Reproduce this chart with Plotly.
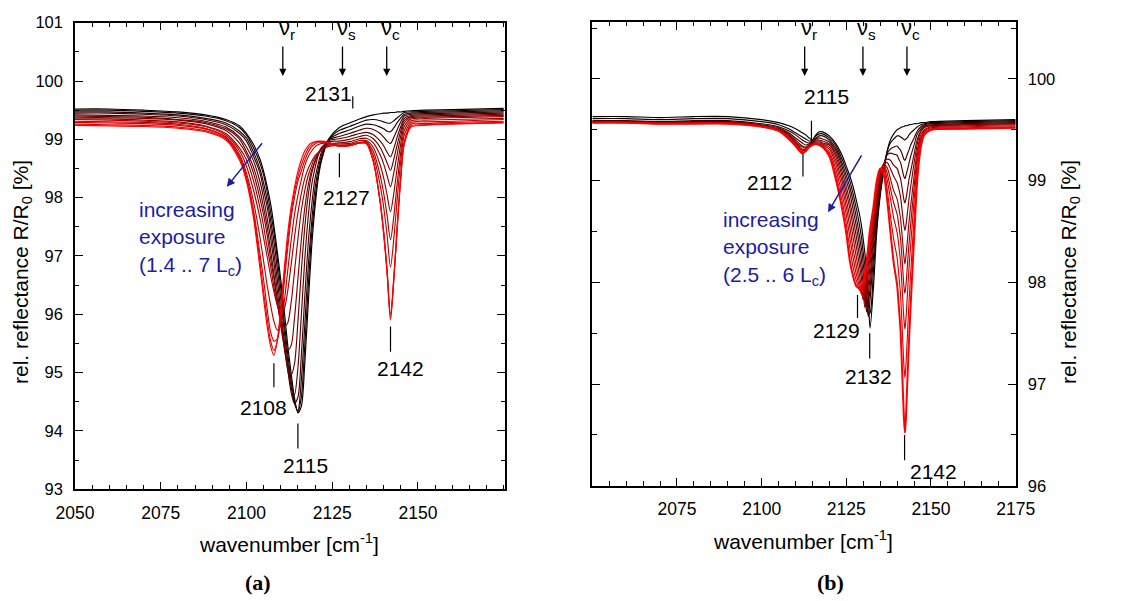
import plotly.graph_objects as go

# ---------------- panel (a) data : wavenumber grid [cm-1] and R/R0 [%] -------------
wn_a = [2050, 2060, 2070, 2080, 2088, 2094, 2098,
        2100, 2102, 2104, 2105, 2106, 2107, 2108, 2109, 2110, 2111, 2112, 2113, 2114, 2115, 2116, 2117, 2118, 2119, 2120, 2121, 2122, 2124,
        2127, 2130, 2133, 2135,
        2137, 2139, 2140, 2141, 2142, 2143, 2144, 2145, 2146, 2148,
        2152, 2160, 2175]

a00 = [99.52, 99.52, 99.50, 99.47, 99.42, 99.34, 99.23,
       99.10, 98.92, 98.65, 98.45, 98.20, 97.91, 97.52, 97.07, 96.59, 96.07, 95.49, 95.00, 94.57, 94.31, 94.42, 95.15, 96.17, 97.14, 97.85, 98.36, 98.66, 99.01,
       99.20, 99.28, 99.35, 99.39,
       99.42, 99.44, 99.45, 99.45, 99.46, 99.46, 99.47, 99.47, 99.48, 99.49,
       99.50, 99.51, 99.53]
a01 = [99.50, 99.50, 99.48, 99.45, 99.40, 99.32, 99.20,
       99.07, 98.86, 98.58, 98.39, 98.11, 97.77, 97.41, 96.96, 96.44, 95.87, 95.34, 94.87, 94.51, 94.33, 94.58, 95.46, 96.46, 97.37, 97.98, 98.42, 98.69, 99.00,
       99.15, 99.22, 99.29, 99.33,
       99.34, 99.32, 99.30, 99.28, 99.28, 99.32, 99.37, 99.42, 99.46, 99.47,
       99.48, 99.49, 99.51]
a02 = [99.47, 99.47, 99.45, 99.42, 99.36, 99.28, 99.14,
       99.02, 98.79, 98.48, 98.25, 97.97, 97.63, 97.25, 96.78, 96.26, 95.72, 95.21, 94.77, 94.47, 94.35, 94.87, 95.81, 96.81, 97.57, 98.16, 98.51, 98.75, 99.00,
       99.10, 99.16, 99.23, 99.26,
       99.25, 99.21, 99.18, 99.14, 99.13, 99.20, 99.29, 99.37, 99.43, 99.45,
       99.46, 99.47, 99.49]
a03 = [99.45, 99.45, 99.43, 99.40, 99.34, 99.25, 99.10,
       98.97, 98.72, 98.41, 98.13, 97.85, 97.50, 97.05, 96.59, 96.06, 95.55, 95.08, 94.67, 94.47, 94.58, 95.29, 96.30, 97.21, 97.86, 98.33, 98.60, 98.80, 98.99,
       99.05, 99.10, 99.16, 99.19,
       99.17, 99.10, 99.04, 98.97, 98.93, 99.04, 99.17, 99.30, 99.40, 99.43,
       99.44, 99.45, 99.47]
a04 = [99.42, 99.41, 99.40, 99.37, 99.31, 99.21, 99.04,
       98.87, 98.64, 98.26, 97.99, 97.66, 97.32, 96.89, 96.40, 95.92, 95.44, 95.05, 94.78, 94.62, 95.08, 95.98, 96.94, 97.67, 98.21, 98.51, 98.74, 98.85, 98.98,
       99.01, 99.05, 99.10, 99.12,
       99.08, 98.97, 98.89, 98.78, 98.70, 98.85, 99.05, 99.22, 99.36, 99.41,
       99.42, 99.43, 99.45]
a05 = [99.40, 99.39, 99.38, 99.34, 99.29, 99.18, 99.00,
       98.79, 98.53, 98.11, 97.83, 97.52, 97.12, 96.69, 96.25, 95.80, 95.44, 95.13, 94.96, 95.15, 95.87, 96.74, 97.49, 98.04, 98.41, 98.62, 98.77, 98.87, 98.96,
       98.97, 99.00, 99.05, 99.07,
       99.01, 98.86, 98.74, 98.60, 98.47, 98.67, 98.92, 99.15, 99.32, 99.39,
       99.40, 99.41, 99.43]
a06 = [99.38, 99.37, 99.36, 99.33, 99.27, 99.15, 98.93,
       98.74, 98.43, 97.97, 97.70, 97.37, 96.97, 96.61, 96.20, 95.84, 95.54, 95.39, 95.46, 95.93, 96.61, 97.28, 97.82, 98.21, 98.47, 98.63, 98.76, 98.84, 98.92,
       98.94, 98.96, 99.01, 99.02,
       98.94, 98.73, 98.58, 98.38, 98.19, 98.44, 98.76, 99.06, 99.28, 99.37,
       99.38, 99.39, 99.41]
a07 = [99.35, 99.35, 99.33, 99.30, 99.23, 99.10, 98.85,
       98.65, 98.30, 97.81, 97.51, 97.16, 96.84, 96.47, 96.18, 95.92, 95.79, 95.85, 96.19, 96.73, 97.29, 97.78, 98.12, 98.38, 98.55, 98.69, 98.77, 98.83, 98.90,
       98.92, 98.93, 98.98, 98.98,
       98.86, 98.56, 98.34, 98.05, 97.76, 98.09, 98.53, 98.93, 99.22, 99.35,
       99.36, 99.37, 99.39]
a08 = [99.34, 99.33, 99.31, 99.28, 99.22, 99.07, 98.80,
       98.54, 98.14, 97.63, 97.31, 97.00, 96.67, 96.39, 96.15, 96.02, 96.09, 96.39, 96.84, 97.32, 97.74, 98.07, 98.33, 98.50, 98.62, 98.72, 98.78, 98.83, 98.88,
       98.90, 98.91, 98.95, 98.96,
       98.79, 98.38, 98.08, 97.70, 97.28, 97.70, 98.27, 98.78, 99.15, 99.32,
       99.33, 99.34, 99.36]
a09 = [99.31, 99.30, 99.29, 99.26, 99.19, 99.04, 98.74,
       98.42, 97.95, 97.30, 96.91, 96.51, 96.17, 95.88, 95.73, 95.84, 96.21, 96.73, 97.25, 97.71, 98.04, 98.31, 98.55, 98.70, 98.80, 98.87, 98.91, 98.93, 98.93,
       98.89, 98.90, 98.94, 98.94,
       98.72, 98.21, 97.84, 97.36, 96.81, 97.32, 98.01, 98.63, 99.07, 99.29,
       99.30, 99.31, 99.34]
a10 = [99.29, 99.28, 99.27, 99.24, 99.18, 99.03, 98.70,
       98.36, 97.81, 97.01, 96.59, 96.11, 95.71, 95.54, 95.58, 95.95, 96.53, 97.12, 97.64, 98.00, 98.28, 98.46, 98.64, 98.78, 98.87, 98.92, 98.95, 98.95, 98.94,
       98.88, 98.89, 98.94, 98.93,
       98.63, 97.94, 97.43, 96.77, 96.00, 96.66, 97.57, 98.38, 98.96, 99.26,
       99.27, 99.29, 99.31]
a11 = [99.26, 99.25, 99.24, 99.21, 99.15, 99.01, 98.67,
       98.31, 97.75, 96.87, 96.38, 95.94, 95.56, 95.38, 95.54, 96.02, 96.67, 97.24, 97.73, 98.10, 98.36, 98.56, 98.72, 98.84, 98.91, 98.95, 98.96, 98.96, 98.94,
       98.88, 98.89, 98.94, 98.93,
       98.62, 97.92, 97.40, 96.73, 95.93, 96.61, 97.53, 98.35, 98.93, 99.23,
       99.25, 99.27, 99.29]
a12 = [99.24, 99.23, 99.22, 99.19, 99.13, 98.99, 98.64,
       98.28, 97.67, 96.76, 96.27, 95.81, 95.46, 95.30, 95.56, 96.11, 96.77, 97.37, 97.83, 98.17, 98.45, 98.65, 98.80, 98.89, 98.94, 98.96, 98.97, 98.97, 98.95,
       98.88, 98.89, 98.94, 98.93,
       98.62, 97.91, 97.38, 96.71, 95.90, 96.64, 97.49, 98.33, 98.91, 99.21,
       99.24, 99.26, 99.28]

# ---------------- panel (b) data -------------
wn_b = [2050, 2060, 2070, 2080, 2090, 2100, 2105, 2108,
        2110, 2112, 2113, 2114, 2115, 2116, 2117, 2118, 2120, 2122,
        2123, 2124, 2125, 2126, 2127, 2128, 2129,
        2129.5, 2130, 2130.5, 2131, 2131.5, 2132,
        2133, 2134, 2135, 2136, 2137, 2138, 2139, 2140,
        2140.5, 2141, 2141.5, 2142, 2142.3, 2142.6, 2143, 2143.5, 2144,
        2145, 2146, 2147, 2148, 2150, 2160, 2175]

b00 = [99.63, 99.63, 99.62, 99.63, 99.63, 99.60, 99.57, 99.54,
       99.51, 99.47, 99.45, 99.42, 99.40, 99.45, 99.48, 99.48, 99.44, 99.36,
       99.30, 99.23, 99.14, 99.05, 98.94, 98.80, 98.65,
       98.55, 98.42, 98.28, 98.10, 97.85, 97.55,
       97.95, 98.50, 98.85, 99.08, 99.28, 99.40, 99.46, 99.50,
       99.51, 99.52, 99.53, 99.53, 99.54, 99.54, 99.54, 99.55, 99.55,
       99.56, 99.56, 99.57, 99.57, 99.58, 99.59, 99.60]
b01 = [99.61, 99.61, 99.60, 99.61, 99.61, 99.58, 99.55, 99.51,
       99.47, 99.43, 99.41, 99.39, 99.40, 99.44, 99.46, 99.46, 99.42, 99.34,
       99.27, 99.19, 99.10, 99.00, 98.87, 98.72, 98.54,
       98.43, 98.29, 98.15, 97.94, 97.69, 97.70,
       98.11, 98.57, 98.88, 99.10, 99.28, 99.37, 99.41, 99.44,
       99.44, 99.43, 99.42, 99.405, 99.40, 99.41, 99.42, 99.45, 99.47,
       99.50, 99.53, 99.55, 99.56, 99.57, 99.58, 99.59]
b02 = [99.59, 99.59, 99.58, 99.59, 99.59, 99.56, 99.53, 99.49,
       99.45, 99.40, 99.38, 99.37, 99.39, 99.42, 99.44, 99.44, 99.40, 99.31,
       99.24, 99.15, 99.05, 98.94, 98.80, 98.63, 98.43,
       98.32, 98.18, 98.03, 97.81, 97.66, 97.83,
       98.24, 98.64, 98.91, 99.12, 99.26, 99.31, 99.33, 99.34,
       99.32, 99.30, 99.26, 99.21, 99.20, 99.22, 99.26, 99.30, 99.35,
       99.42, 99.49, 99.53, 99.55, 99.56, 99.57, 99.58]
b03 = [99.585, 99.585, 99.575, 99.58, 99.58, 99.55, 99.52, 99.47,
       99.42, 99.37, 99.35, 99.36, 99.38, 99.41, 99.42, 99.41, 99.38, 99.29,
       99.21, 99.11, 99.00, 98.88, 98.72, 98.54, 98.33,
       98.21, 98.08, 97.90, 97.71, 97.79, 97.94,
       98.36, 98.71, 98.95, 99.15, 99.25, 99.27, 99.26, 99.25,
       99.21, 99.18, 99.11, 99.04, 99.02, 99.05, 99.10, 99.17, 99.24,
       99.35, 99.46, 99.51, 99.54, 99.55, 99.56, 99.57]
b04 = [99.58, 99.58, 99.57, 99.575, 99.575, 99.545, 99.51, 99.46,
       99.40, 99.34, 99.33, 99.35, 99.37, 99.40, 99.40, 99.39, 99.36, 99.26,
       99.17, 99.06, 98.94, 98.80, 98.63, 98.44, 98.23,
       98.11, 97.98, 97.81, 97.76, 97.89, 98.05,
       98.44, 98.75, 98.98, 99.16, 99.21, 99.20, 99.15, 99.12,
       99.07, 99.02, 98.92, 98.81, 98.78, 98.82, 98.90, 99.01, 99.09,
       99.26, 99.41, 99.49, 99.53, 99.54, 99.55, 99.56]
b05 = [99.58, 99.58, 99.57, 99.57, 99.57, 99.54, 99.50, 99.45,
       99.38, 99.33, 99.32, 99.34, 99.37, 99.39, 99.39, 99.37, 99.35, 99.23,
       99.13, 99.01, 98.88, 98.73, 98.54, 98.34, 98.14,
       98.03, 97.89, 97.75, 97.86, 97.98, 98.17,
       98.50, 98.78, 99.01, 99.16, 99.18, 99.12, 99.04, 98.98,
       98.92, 98.84, 98.70, 98.56, 98.51, 98.56, 98.67, 98.82, 98.94,
       99.17, 99.37, 99.48, 99.52, 99.54, 99.55, 99.56]
b06 = [99.575, 99.575, 99.565, 99.57, 99.57, 99.54, 99.50, 99.44,
       99.37, 99.31, 99.31, 99.34, 99.36, 99.38, 99.38, 99.36, 99.33, 99.19,
       99.08, 98.96, 98.81, 98.64, 98.44, 98.24, 98.05,
       97.95, 97.83, 97.84, 97.94, 98.08, 98.26,
       98.56, 98.82, 99.05, 99.16, 99.13, 99.02, 98.90, 98.82,
       98.73, 98.63, 98.45, 98.25, 98.18, 98.26, 98.40, 98.59, 98.75,
       99.04, 99.31, 99.45, 99.50, 99.53, 99.54, 99.55]
b07 = [99.575, 99.575, 99.565, 99.565, 99.565, 99.535, 99.495, 99.43,
       99.36, 99.30, 99.30, 99.33, 99.36, 99.37, 99.37, 99.35, 99.31, 99.15,
       99.03, 98.90, 98.74, 98.55, 98.33, 98.15, 97.98,
       97.90, 97.84, 97.92, 98.02, 98.17, 98.33,
       98.62, 98.86, 99.08, 99.16, 99.08, 98.93, 98.78, 98.67,
       98.56, 98.43, 98.21, 97.96, 97.89, 97.97, 98.15, 98.38, 98.57,
       98.93, 99.26, 99.42, 99.49, 99.52, 99.53, 99.54]
b08 = [99.57, 99.57, 99.56, 99.565, 99.565, 99.535, 99.49, 99.42,
       99.35, 99.29, 99.30, 99.33, 99.35, 99.37, 99.36, 99.34, 99.28, 99.10,
       98.97, 98.83, 98.66, 98.45, 98.24, 98.07, 97.94,
       97.88, 97.91, 97.98, 98.10, 98.24, 98.40,
       98.65, 98.91, 99.10, 99.14, 99.02, 98.83, 98.63, 98.49,
       98.36, 98.20, 97.93, 97.64, 97.54, 97.64, 97.86, 98.14, 98.37,
       98.80, 99.20, 99.40, 99.48, 99.51, 99.52, 99.53]
b09 = [99.57, 99.57, 99.56, 99.56, 99.56, 99.53, 99.49, 99.42,
       99.34, 99.28, 99.29, 99.33, 99.35, 99.36, 99.35, 99.33, 99.26, 99.05,
       98.91, 98.76, 98.57, 98.34, 98.15, 98.01, 97.92,
       97.92, 97.97, 98.04, 98.17, 98.30, 98.46,
       98.70, 98.96, 99.11, 99.11, 98.93, 98.66, 98.42, 98.24,
       98.07, 97.88, 97.55, 97.18, 97.06, 97.19, 97.45, 97.80, 98.09,
       98.63, 99.12, 99.37, 99.47, 99.50, 99.51, 99.52]
b10 = [99.57, 99.57, 99.56, 99.56, 99.56, 99.53, 99.49, 99.41,
       99.34, 99.27, 99.29, 99.33, 99.35, 99.36, 99.35, 99.33, 99.24, 99.00,
       98.85, 98.68, 98.48, 98.22, 98.06, 97.96, 97.94,
       97.96, 98.00, 98.10, 98.21, 98.36, 98.52,
       98.74, 99.00, 99.12, 99.07, 98.83, 98.50, 98.19, 97.97,
       97.76, 97.53, 97.11, 96.67, 96.52, 96.67, 97.01, 97.42, 97.78,
       98.43, 99.03, 99.33, 99.45, 99.50, 99.51, 99.52]

spectra_a = [a00, a01, a02, a03, a04, a05, a06, a07, a08, a09, a10, a11, a12]
spectra_b = [b00, b01, b02, b03, b04, b05, b06, b07, b08, b09, b10]

# peak labels (text) and mode labels
peaks_a = ["2131", "2127", "2108", "2115", "2142"]
peaks_b = ["2115", "2112", "2129", "2132", "2142"]
modes = ["r", "s", "c"]
modes_pos_a = [2110.6, 2128.0, 2140.9]
modes_pos_b = [2112.7, 2129.9, 2142.9]

FONT = "Liberation Sans, Arial, Helvetica, sans-serif"
BLUE = "#1c1ca6"


def shade(k, n):
    r = int(round(255 * k / (n - 1)))
    return "rgb(%d,0,0)" % r


fig = go.Figure()
for k, y in enumerate(spectra_a):
    fig.add_trace(go.Scatter(x=wn_a, y=y, mode="lines", xaxis="x", yaxis="y",
                             line=dict(color=shade(k, len(spectra_a)), width=1.15,
                                       shape="spline", smoothing=0.8),
                             showlegend=False, hoverinfo="skip"))
for k, y in enumerate(spectra_b):
    last = k == len(spectra_b) - 1
    fig.add_trace(go.Scatter(x=wn_b, y=y, mode="lines", xaxis="x2", yaxis="y2",
                             line=dict(color=shade(k, len(spectra_b)), width=2.0 if last else 1.15,
                                       shape="spline", smoothing=0.8),
                             showlegend=False, hoverinfo="skip"))

ax_common = dict(showline=True, linecolor="black", linewidth=1.5, mirror="allticks",
                 ticks="inside", ticklen=8, tickwidth=1.3, tickcolor="black",
                 showgrid=False, zeroline=False, ticklabelstandoff=7, automargin=False)


def minor(d, t0):
    return dict(ticks="inside", ticklen=4.5, tickwidth=1.1, tickcolor="black",
                tickmode="linear", dtick=d, tick0=t0, showgrid=False)


xfont = dict(family=FONT, size=17.5, color="black")
yfont = dict(family=FONT, size=16.5, color="black")

fig.update_layout(
    width=1138, height=601, autosize=False,
    margin=dict(l=0, r=0, t=0, b=0, pad=0, autoexpand=False),
    paper_bgcolor="white", plot_bgcolor="white",
    font=dict(family=FONT, color="black"),
    xaxis=dict(domain=[0.0659, 0.4438], range=[2050, 2175.4], anchor="y",
               tickmode="array", tickvals=[2050, 2075, 2100, 2125, 2150],
               minor=minor(5, 2050), tickfont=xfont, **ax_common),
    yaxis=dict(domain=[0.1859, 0.9622], range=[93, 101], anchor="x",
               tickmode="array", tickvals=[93, 94, 95, 96, 97, 98, 99, 100, 101],
               minor=minor(0.5, 93), tickfont=yfont, **ax_common),
    xaxis2=dict(domain=[0.5205, 0.8925], range=[2050, 2175], anchor="y2",
                tickmode="array", tickvals=[2075, 2100, 2125, 2150, 2175],
                minor=minor(5, 2050), tickfont=xfont, **ax_common),
    yaxis2=dict(domain=[0.1918, 0.9634], range=[96, 100.56], anchor="x2", side="right",
                tickmode="array", tickvals=[96, 97, 98, 99, 100],
                minor=minor(0.5, 96), tickfont=yfont, **ax_common),
)

ann = []
shapes = []

# mode arrows and nu labels
for xr, yr, pos, tip in (("x", "y", modes_pos_a, 100.086), ("x2", "y2", modes_pos_b, 100.03)):
    for m, xp in zip(modes, pos):
        ann.append(dict(x=xp, y=tip, xref=xr, yref=yr, text="", showarrow=True,
                        ax=0, ay=-31, arrowhead=2, arrowsize=1.1, arrowwidth=1.3,
                        arrowcolor="black"))
        ann.append(dict(x=xp, y=tip, xref=xr, yref=yr, yshift=31, xshift=4,
                        text="ν<sub>%s</sub>" % m, showarrow=False,
                        xanchor="center", yanchor="bottom",
                        font=dict(size=22, color="black")))

# peak labels with short marker lines
lab_a = [(2123.8, 99.794), (2129.3, 98.01), (2104.9, 94.41), (2117.1, 93.41), (2144.8, 95.07)]
tick_a = [(2131, 99.53, 99.74), (2127.1, 98.35, 98.76), (2108, 94.75, 95.16), (2115, 93.70, 94.13), (2142, 95.36, 95.79)]
lab_b = [(2119.1, 99.825), (2102.4, 98.98), (2122.1, 97.53), (2131.4, 97.07), (2150.6, 96.14)]
tick_b = [(2114.7, 99.38, 99.59), (2112.2, 99.04, 99.27), (2128.3, 97.65, 97.875), (2131.9, 97.25, 97.5), (2142.2, 96.25, 96.5)]
for xr, yr, texts, labs, ticks in (("x", "y", peaks_a, lab_a, tick_a), ("x2", "y2", peaks_b, lab_b, tick_b)):
    for t, (lx, ly), (tx, y0, y1) in zip(texts, labs, ticks):
        ann.append(dict(x=lx, y=ly, xref=xr, yref=yr, text=t, showarrow=False,
                        xanchor="center", yanchor="middle", font=dict(size=21, color="black")))
        shapes.append(dict(type="line", xref=xr, yref=yr, x0=tx, x1=tx, y0=y0, y1=y1,
                           line=dict(color="black", width=1.2)))

# exposure notes and arrows
ann.append(dict(x=2068.0, y=97.30, xref="x", yref="y", showarrow=False, align="left",
                xanchor="left", yanchor="middle",
                text="increasing<br>exposure<br>(1.4 .. 7 L<sub>c</sub>)",
                font=dict(size=21, color=BLUE)))
ann.append(dict(x=2094.25, y=98.187, xref="x", yref="y", text="", showarrow=True,
                ax=36.6, ay=-45, arrowhead=2, arrowsize=1.1, arrowwidth=1.5, arrowcolor=BLUE))
ann.append(dict(x=2087.9, y=98.33, xref="x2", yref="y2", showarrow=False, align="left",
                xanchor="left", yanchor="middle",
                text="increasing<br>exposure<br>(2.5 .. 6 L<sub>c</sub>)",
                font=dict(size=21, color=BLUE)))
ann.append(dict(x=2119.6, y=98.69, xref="x2", yref="y2", text="", showarrow=True,
                ax=34.4, ay=-58.3, arrowhead=2, arrowsize=1.1, arrowwidth=1.5, arrowcolor=BLUE))

# axis titles
ytitle = "rel. reflectance R/R<sub>0</sub> [%]"
xtitle = "wavenumber [cm<sup>-1</sup>]"
ann.append(dict(x=0.0193, y=0.5474, xref="paper", yref="paper", text=ytitle, textangle=-90,
                showarrow=False, xanchor="center", yanchor="middle", font=dict(size=21)))
ann.append(dict(x=0.9402, y=0.5474, xref="paper", yref="paper", text=ytitle, textangle=-90,
                showarrow=False, xanchor="center", yanchor="middle", font=dict(size=21)))
ann.append(dict(x=0.254, y=0.0965, xref="paper", yref="paper", text=xtitle,
                showarrow=False, xanchor="center", yanchor="middle", font=dict(size=21)))
ann.append(dict(x=0.7056, y=0.1015, xref="paper", yref="paper", text=xtitle,
                showarrow=False, xanchor="center", yanchor="middle", font=dict(size=21)))

# sub-figure captions
for cap, cx in (("(a)", 0.2267), ("(b)", 0.7302)):
    ann.append(dict(x=cx, y=0.006, xref="paper", yref="paper", text="<b>%s</b>" % cap,
                    showarrow=False, xanchor="center", yanchor="bottom",
                    font=dict(size=22, family="Liberation Serif, DejaVu Serif, serif")))

fig.update_layout(annotations=ann, shapes=shapes)

fig.write_html("out.html", config={"displayModeBar": False, "responsive": False},
               post_script="document.body.style.margin='0';")
